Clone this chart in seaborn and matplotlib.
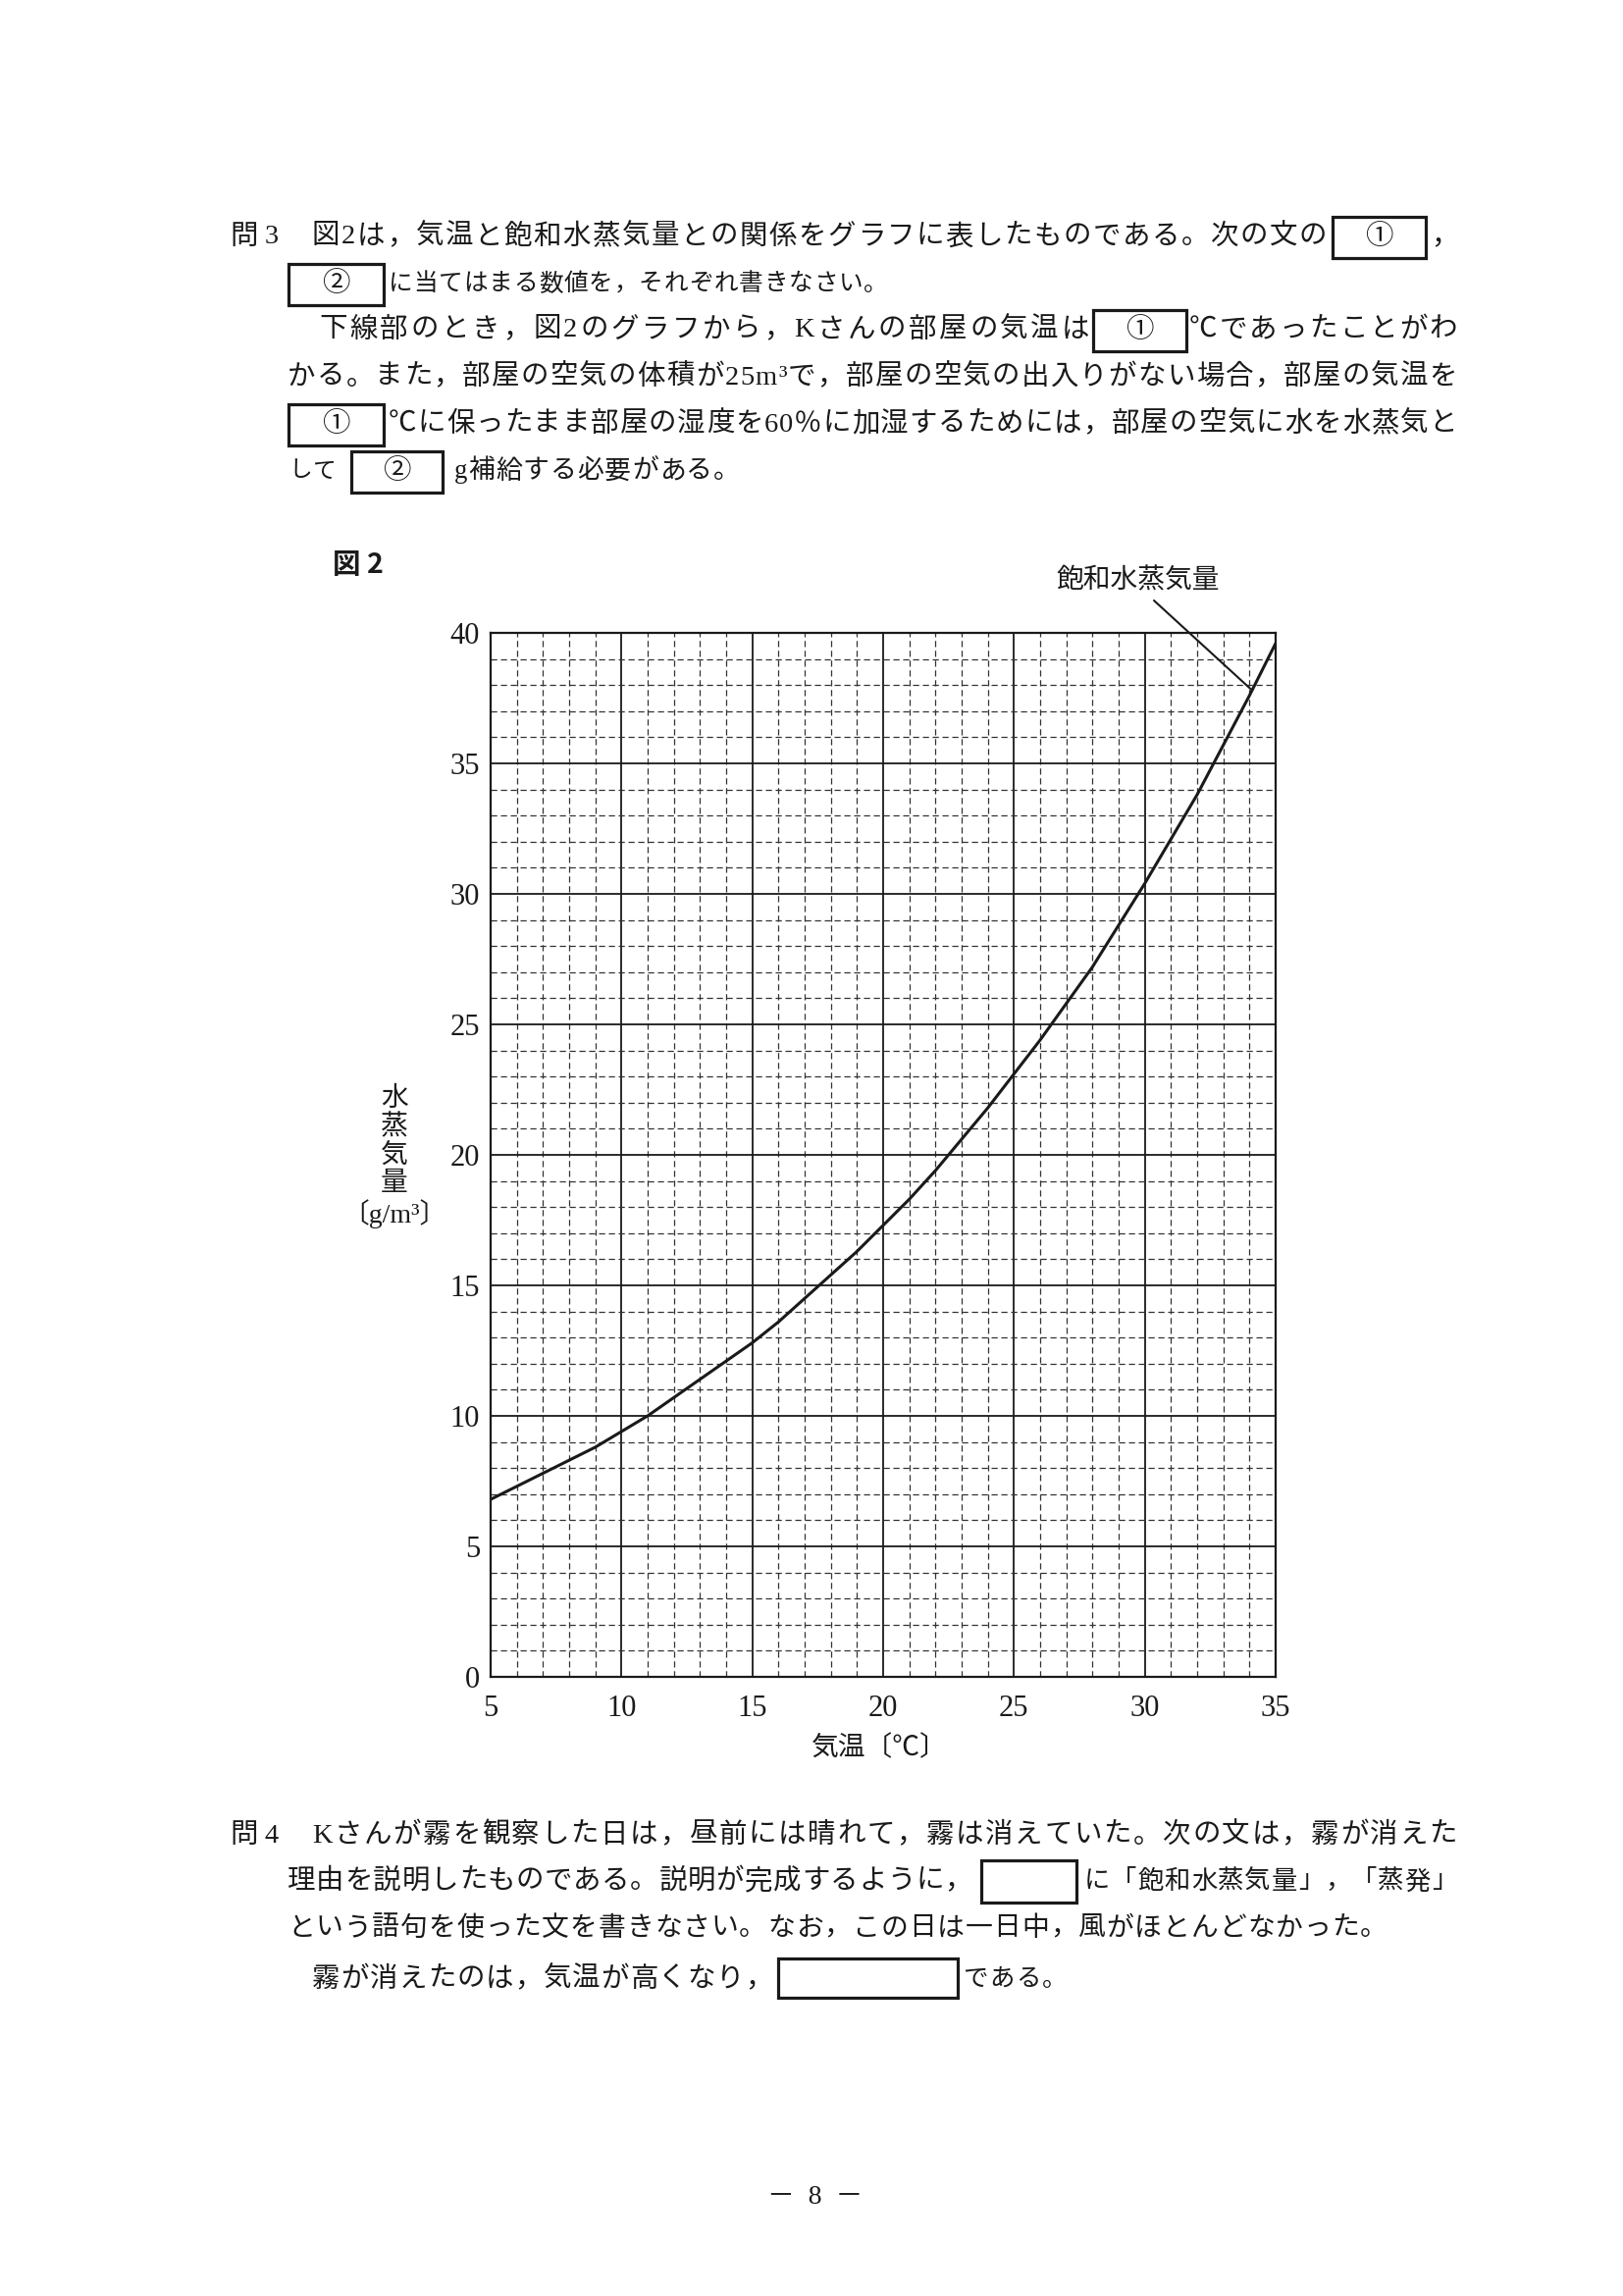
import numpy as np
import matplotlib
matplotlib.use("Agg")
import matplotlib.pyplot as plt
from matplotlib.patches import Rectangle
import seaborn as sns

# 気温と飽和水蒸気量 (図2)
kion = [5, 6, 7, 8, 9, 10, 11, 12, 13, 14, 15, 16, 17, 18, 19, 20,
        21, 22, 23, 24, 25, 26, 27, 28, 29, 30, 31, 32, 33, 34, 35]
houwa = [6.8, 7.3, 7.8, 8.3, 8.8, 9.4, 10.0, 10.7, 11.4, 12.1, 12.8, 13.6, 14.5, 15.4, 16.3, 17.3,
         18.3, 19.4, 20.6, 21.8, 23.1, 24.4, 25.8, 27.2, 28.8, 30.4, 32.1, 33.8, 35.7, 37.6, 39.6]
x_ticks = [5, 10, 15, 20, 25, 30, 35]
y_ticks = [0, 5, 10, 15, 20, 25, 30, 35, 40]

sns.set_style("white")
JP = ['Liberation Serif', 'Noto Sans CJK JP']
plt.rcParams['font.family'] = JP
INK = '#1a1a1a'
FS = 20.5

W, H = 1654, 2340
fig = plt.figure(figsize=(W / 100, H / 100), dpi=100)
fig.patch.set_facecolor('white')
r = fig.canvas.get_renderer()


def fx(x):
    return x / W


def fy(y):
    return 1 - y / H


def widths(s, size):
    ws = []
    for ch in s:
        t = fig.text(0, 0, ch, fontsize=size, family=JP)
        ws.append(t.get_window_extent(r).width)
        t.remove()
    return ws


def put(s, x0, x1, y, size=FS):
    # 文字を1つずつ並べて両端揃え (入りきらない時は少し小さくする)
    ws = widths(s, size)
    if sum(ws) > (x1 - x0) * 0.99:
        size = size * (x1 - x0) * 0.97 / sum(ws)
        ws = widths(s, size)
    gap = (x1 - x0 - sum(ws)) / (len(s) - 1) if len(s) > 1 else 0
    x = x0
    for ch, w in zip(s, ws):
        fig.text(fx(x), fy(y), ch, fontsize=size, family=JP, color=INK,
                 ha='left', va='center')
        x += w + gap


def box(x0, x1, y0, y1, label=None):
    fig.add_artist(Rectangle((fx(x0), fy(y1)), fx(x1) - fx(x0), fy(y0) - fy(y1),
                             transform=fig.transFigure, fill=False,
                             lw=2.3, edgecolor=INK))
    if label:
        fig.text(fx((x0 + x1) / 2), fy((y0 + y1) / 2), label, fontsize=FS,
                 family=JP, color=INK, ha='center', va='center')


# 問3
put("問3", 234, 284, 242)
put("図2は，気温と飽和水蒸気量との関係をグラフに表したものである。次の文の", 318, 1352, 242)
box(1358, 1453, 221, 263, "①")
put("，", 1458, 1488, 242)
box(294, 391, 269, 311, "②")
put("に当てはまる数値を，それぞれ書きなさい。", 396, 905, 290)
put("下線部のとき，図2のグラフから，Kさんの部屋の気温は", 325, 1110, 337)
box(1114, 1209, 316, 358, "①")
put("℃であったことがわ", 1212, 1485, 337)
put("かる。また，部屋の空気の体積が25m³で，部屋の空気の出入りがない場合，部屋の気温を", 293, 1485, 385)
box(294, 391, 412, 454, "①")
put("℃に保ったまま部屋の湿度を60％に加湿するためには，部屋の空気に水を水蒸気と", 396, 1485, 433)
put("して", 294, 343, 481)
box(358, 451, 460, 502, "②")
put("g補給する必要がある。", 463, 754, 481)

# 図2
fig.text(fx(339), fy(576), "図 2", fontsize=FS, family=['Noto Sans CJK JP'],
         fontweight='bold', color=INK, ha='left', va='center')

ax = fig.add_axes([fx(500), fy(1709), 800 / W, 1064 / H])
ax.set_xlim(5, 35)
ax.set_ylim(0, 40)
ax.set_xticks(x_ticks)
ax.set_yticks(y_ticks)
ax.set_xticks(kion, minor=True)
ax.set_yticks(range(0, 41), minor=True)
ax.grid(which='minor', color='#333333', lw=0.9, ls=(0, (5, 3)))
ax.grid(which='major', color=INK, lw=1.3, ls='-')
ax.set_axisbelow(True)
for sp in ax.spines.values():
    sp.set_color(INK)
    sp.set_linewidth(1.6)
ax.tick_params(which='both', length=0)
ax.tick_params(axis='x', pad=13, labelsize=22, labelcolor=INK)
ax.tick_params(axis='y', pad=8, labelsize=22, labelcolor=INK)

sns.lineplot(x=kion, y=houwa, ax=ax, color=INK, lw=2.2, zorder=5)

ax.set_xlabel("気温〔℃〕", fontsize=20, color=INK)
ax.xaxis.label.set_va('center')
ax.xaxis.set_label_coords(0.495, -0.069)
ax.set_ylabel("水\n蒸\n気\n量\n〔g/m³〕", fontsize=20, color=INK, rotation=0,
              linespacing=1.15, ha='center', va='center', multialignment='center')
ax.yaxis.set_label_coords(-0.1225, 0.497)

xp = 34.1
ax.annotate("飽和水蒸気量", xy=(xp, np.interp(xp, kion, houwa)), xytext=(29.75, 42.0),
            textcoords='data', fontsize=20, color=INK, ha='center', va='center',
            annotation_clip=False,
            arrowprops=dict(arrowstyle='-', color=INK, lw=1.5, relpos=(0.55, 0),
                            shrinkA=4, shrinkB=0))

# 問4
put("問4", 234, 284, 1871)
put("Kさんが霧を観察した日は，昼前には晴れて，霧は消えていた。次の文は，霧が消えた", 318, 1485, 1871)
put("理由を説明したものである。説明が完成するように，", 293, 991, 1918)
box(1000, 1097, 1896, 1939)
put("に「飽和水蒸気量」，「蒸発」", 1105, 1485, 1918)
put("という語句を使った文を書きなさい。なお，この日は一日中，風がほとんどなかった。", 293, 1414, 1966)
put("霧が消えたのは，気温が高くなり，", 318, 788, 2018)
box(793, 976, 1996, 2036)
put("である。", 982, 1087, 2018)

fig.text(fx(831), fy(2239), "－  8  －", fontsize=20, family=JP, color=INK,
         ha='center', va='center')

fig.savefig("out.png", dpi=100, facecolor='white')
